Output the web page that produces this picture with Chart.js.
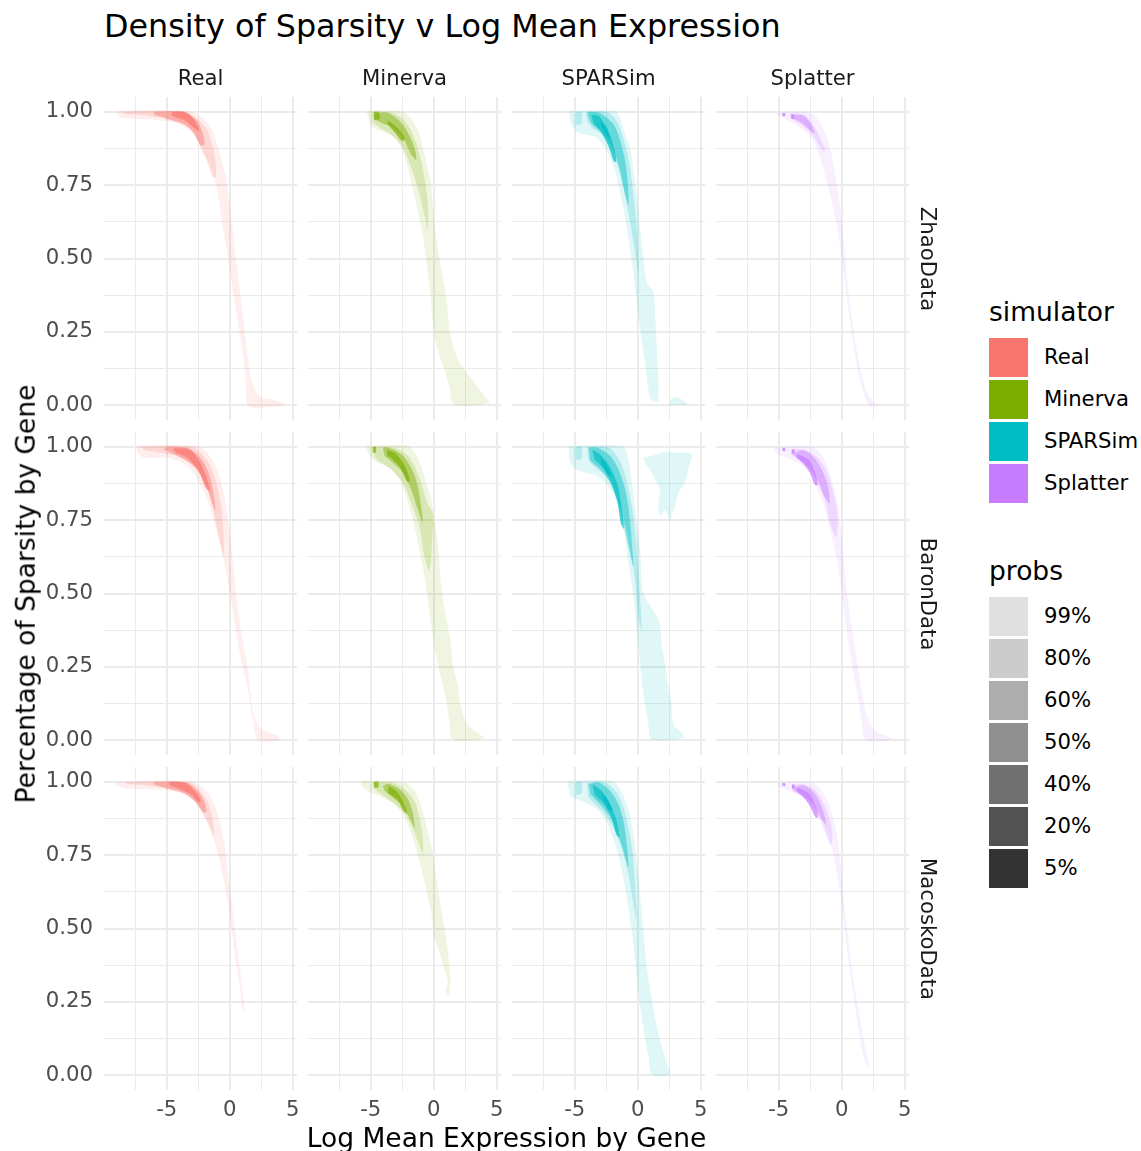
<!DOCTYPE html>
<html>
<head>
<meta charset="utf-8">
<title>Density of Sparsity v Log Mean Expression</title>
<script src="https://cdn.jsdelivr.net/npm/chart.js@4.4.1/dist/chart.umd.min.js"></script>
<style>
  html, body { margin: 0; padding: 0; background: #fff; }
  #page { position: relative; width: 1141px; height: 1151px; overflow: hidden; font-family: 'DejaVu Sans', sans-serif; }
  #page canvas { position: absolute; }
  .txt { position: absolute; white-space: nowrap; line-height: 1; }
  .key { position: absolute; width: 39px; height: 39px; }
</style>
</head>
<body>
<div id="page"></div>
<script>
const simulators = ['Real', 'Minerva', 'SPARSim', 'Splatter'];
const simColors = ['#F8766D', '#7CAE00', '#00BFC4', '#C77CFF'];
const dataNames = ['ZhaoData', 'BaronData', 'MacoskoData'];
const probLabels = ['99%', '80%', '60%', '50%', '40%', '20%', '5%'];
const probAlpha = [0.12, 0.2, 0.32, 0.44, 0.56, 0.68, 0.8];
const xTicks = [-7.5, -5, -2.5, 0, 2.5, 5];
const yTicks = [0, 0.125, 0.25, 0.375, 0.5, 0.625, 0.75, 0.875, 1];
const xRange = [-9.97, 5.33];
const yRange = [-0.05, 1.05];

// HDR regions per panel: [prob, [x0, y0, x1, y1, ...]]
// x = log mean expression, y = sparsity
const zhaoReal = [
  ['99%', [-9.0,1.0, -8.6,1.003, -3.5,1.003, -2.3,0.985, -1.5,0.945, -1.0,0.888, -0.6,0.83, -0.25,0.76, 0.0,0.68, 0.24,0.6, 0.45,0.51, 0.71,0.42, 0.97,0.33, 1.16,0.26, 1.42,0.17, 1.76,0.08, 2.4,0.03, 3.5,0.018, 4.4,0.003, 3.7,-0.003, 1.5,-0.003, 1.32,0.066, 1.05,0.17, 0.71,0.27, 0.32,0.37, -0.08,0.49, -0.53,0.6, -0.95,0.72, -1.47,0.81, -2.3,0.877, -2.84,0.928, -3.76,0.959, -5.1,0.968, -6.5,0.974, -8.1,0.977, -8.8,0.982]],
  ['80%', [-8.5,1.0, -3.9,1.0, -2.7,0.979, -1.9,0.945, -1.4,0.888, -1.13,0.83, -1.13,0.775, -1.4,0.78, -1.8,0.83, -2.4,0.888, -3.1,0.934, -4.2,0.962, -5.5,0.979, -7.0,0.989, -8.4,0.991]],
  ['50%', [-6.0,1.0, -3.6,1.0, -2.7,0.974, -2.2,0.934, -2.0,0.888, -2.3,0.885, -2.85,0.928, -3.6,0.957, -5.0,0.977, -6.0,0.99]],
  ['20%', [-4.6,0.999, -3.6,0.999, -2.85,0.974, -2.4,0.934, -2.7,0.94, -3.5,0.968, -4.6,0.986]]
];
const zhaoMinerva = [
  ['99%', [-5.3,1.003, -2.8,1.003, -2.32,0.997, -1.66,0.968, -1.13,0.922, -0.87,0.877, -0.47,0.808, -0.21,0.751, -0.08,0.683, 0.11,0.603, 0.45,0.5, 0.97,0.374, 1.29,0.249, 1.89,0.158, 2.42,0.123, 3.21,0.078, 4.0,0.032, 4.39,0.009, 1.63,0.003, 1.24,0.066, 0.84,0.123, 0.45,0.169, 0.0,0.249, -0.26,0.374, -0.61,0.5, -0.87,0.58, -1.26,0.66, -1.66,0.74, -2.05,0.808, -2.58,0.877, -3.1,0.911, -3.9,0.929, -4.95,0.951, -5.26,0.99]],
  ['80%', [-4.95,1.0, -3.37,0.997, -2.32,0.968, -1.66,0.922, -1.13,0.854, -0.74,0.774, -0.47,0.683, -0.47,0.597, -0.74,0.648, -1.26,0.74, -1.79,0.808, -2.45,0.877, -3.37,0.922, -4.29,0.945, -4.82,0.962]],
  ['50%', [-4.74,0.99, -3.76,0.997, -2.71,0.968, -2.05,0.928, -1.53,0.877, -1.39,0.837, -1.79,0.854, -2.45,0.911, -3.24,0.945, -4.16,0.962, -4.74,0.974]],
  ['20%', [-4.75,0.999, -4.35,0.999, -4.3,0.975, -4.7,0.972]],
  ['20%', [-3.6,0.97, -2.9,0.945, -2.3,0.91, -2.5,0.9, -3.1,0.93, -3.7,0.96]]
];
const zhaoSPARSim = [
  ['99%', [-5.47,1.003, -1.79,1.003, -1.53,0.991, -1.0,0.922, -0.61,0.877, -0.34,0.797, -0.08,0.717, 0.18,0.603, 0.45,0.5, 0.71,0.42, 0.97,0.403, 1.24,0.386, 1.37,0.317, 1.5,0.203, 1.63,0.089, 1.63,0.021, 1.37,0.011, 0.97,0.026, 0.58,0.146, 0.18,0.26, -0.13,0.374, -0.47,0.489, -0.87,0.603, -1.26,0.694, -1.79,0.797, -2.45,0.865, -3.24,0.911, -4.16,0.922, -4.68,0.928, -5.08,0.945, -5.42,0.974]],
  ['99%', [2.45,0.0, 2.6,0.02, 2.9,0.028, 3.4,0.022, 4.0,0.003]],
  ['80%', [-4.1,1.0, -2.32,0.997, -1.53,0.957, -1.0,0.888, -0.61,0.808, -0.34,0.717, -0.08,0.603, 0.05,0.454, -0.34,0.557, -0.87,0.683, -1.39,0.785, -2.05,0.865, -2.84,0.922, -3.63,0.945, -4.03,0.968]],
  ['80%', [-4.9,1.0, -4.45,1.0, -4.45,0.96, -4.9,0.955]],
  ['50%', [-3.95,1.0, -3.1,0.997, -1.92,0.957, -1.39,0.9, -1.0,0.831, -0.79,0.751, -0.74,0.683, -1.05,0.728, -1.53,0.82, -2.18,0.888, -2.97,0.934, -3.63,0.957, -3.95,0.985]],
  ['20%', [-3.7,0.99, -3.1,0.985, -2.4,0.94, -1.9,0.88, -1.7,0.83, -1.9,0.83, -2.3,0.88, -2.9,0.93, -3.5,0.96]],
  ['5%', [-3.0,0.97, -2.5,0.945, -2.2,0.91, -2.5,0.92, -2.9,0.95]]
];
const zhaoSplatter = [
  ['99%', [-5.26,0.997, -2.58,0.997, -1.79,0.968, -1.26,0.922, -0.87,0.865, -0.47,0.774, -0.08,0.66, 0.18,0.546, 0.45,0.42, 0.84,0.283, 1.37,0.146, 1.89,0.055, 2.42,0.015, 2.95,0.0, 2.16,0.0, 1.5,0.078, 0.97,0.192, 0.53,0.329, 0.11,0.466, -0.26,0.58, -0.68,0.671, -1.26,0.774, -1.92,0.865, -2.58,0.922, -3.5,0.951, -4.42,0.974, -5.08,0.988]],
  ['80%', [-4.1,0.995, -3.0,0.99, -2.2,0.95, -1.6,0.9, -1.3,0.87, -1.5,0.865, -2.0,0.9, -2.6,0.935, -3.4,0.96, -4.1,0.98]],
  ['50%', [-3.9,0.99, -3.0,0.985, -2.4,0.955, -2.15,0.925, -2.5,0.935, -3.1,0.96, -3.8,0.975]],
  ['5%', [-4.7,0.995, -4.5,0.995, -4.5,0.985, -4.7,0.985]],
  ['5%', [-4.0,0.99, -3.8,0.99, -3.8,0.975, -4.0,0.975]]
];
const baronReal = [
  ['99%', [-7.45,1.003, -2.58,1.003, -1.79,0.979, -1.13,0.934, -0.61,0.865, -0.21,0.774, 0.05,0.683, 0.32,0.58, 0.58,0.466, 0.97,0.352, 1.37,0.26, 1.63,0.169, 1.89,0.089, 2.42,0.043, 3.21,0.026, 3.87,0.015, 3.87,0.0, 2.29,0.0, 1.89,0.055, 1.63,0.123, 1.37,0.192, 0.97,0.26, 0.58,0.352, 0.18,0.454, -0.21,0.557, -0.61,0.637, -1.13,0.728, -1.79,0.82, -2.58,0.888, -3.5,0.939, -4.95,0.962, -6.0,0.962, -6.79,0.962, -7.32,0.979]],
  ['80%', [-7.05,1.0, -3.1,1.0, -2.32,0.979, -1.53,0.934, -1.0,0.865, -0.61,0.774, -0.47,0.631, -0.87,0.694, -1.26,0.774, -1.79,0.854, -2.45,0.911, -3.24,0.945, -4.16,0.968, -5.47,0.979, -6.79,0.989]],
  ['50%', [-5.08,1.0, -3.5,0.997, -2.58,0.974, -1.84,0.928, -1.39,0.865, -1.13,0.78, -1.39,0.808, -1.92,0.877, -2.58,0.922, -3.37,0.951, -4.42,0.974, -5.21,0.991]],
  ['20%', [-4.5,0.995, -3.2,0.99, -2.4,0.95, -1.8,0.89, -1.6,0.85, -1.9,0.86, -2.5,0.92, -3.3,0.96, -4.3,0.98]]
];
const baronMinerva = [
  ['99%', [-5.34,1.003, -2.05,1.003, -1.53,0.979, -1.0,0.934, -0.61,0.877, -0.26,0.831, -0.08,0.785, 0.18,0.717, 0.45,0.603, 0.63,0.511, 0.97,0.42, 1.37,0.329, 1.5,0.26, 1.89,0.192, 2.16,0.112, 2.68,0.055, 3.47,0.026, 4.0,0.007, 1.5,0.003, 1.24,0.066, 0.84,0.169, 0.32,0.26, -0.08,0.352, -0.34,0.443, -0.74,0.557, -1.13,0.648, -1.66,0.751, -2.18,0.831, -2.71,0.888, -3.5,0.928, -4.42,0.945, -4.95,0.962, -5.26,0.985]],
  ['80%', [-4.82,1.0, -3.24,0.997, -2.18,0.974, -1.53,0.934, -1.0,0.877, -0.53,0.808, -0.08,0.774, -0.08,0.717, -0.34,0.58, -0.74,0.626, -1.13,0.728, -1.79,0.808, -2.45,0.877, -3.37,0.922, -4.16,0.945, -4.68,0.962]],
  ['50%', [-4.03,0.997, -3.63,0.997, -2.58,0.974, -1.79,0.928, -1.26,0.865, -1.0,0.797, -0.87,0.74, -1.26,0.785, -1.79,0.854, -2.45,0.911, -3.24,0.945, -3.9,0.968]],
  ['20%', [-3.7,0.99, -3.0,0.975, -2.3,0.935, -1.9,0.885, -2.1,0.88, -2.6,0.925, -3.2,0.955, -3.7,0.97]],
  ['20%', [-4.85,1.0, -4.6,1.0, -4.6,0.98, -4.85,0.98]]
];
const baronSPARSim = [
  ['99%', [-5.47,1.003, -1.26,1.003, -0.87,0.979, -0.61,0.922, -0.34,0.831, -0.08,0.74, 0.18,0.648, 0.32,0.534, 0.45,0.5, 1.37,0.432, 1.76,0.397, 1.89,0.329, 2.16,0.26, 2.37,0.192, 2.68,0.123, 2.82,0.055, 3.47,0.026, 3.6,0.009, 1.11,0.003, 0.84,0.055, 0.45,0.158, 0.18,0.26, -0.08,0.374, -0.34,0.489, -0.74,0.603, -1.13,0.717, -1.66,0.808, -2.32,0.865, -3.24,0.9, -4.16,0.911, -4.82,0.922, -5.34,0.945, -5.47,0.979]],
  ['99%', [1.11,0.968, 2.16,0.982, 3.21,0.979, 4.26,0.974, 4.0,0.922, 3.74,0.877, 3.21,0.842, 2.95,0.797, 2.68,0.763, 2.55,0.745, 2.16,0.785, 1.76,0.763, 1.63,0.808, 1.76,0.854, 1.37,0.888, 1.11,0.911, 0.58,0.945, 0.45,0.962]],
  ['80%', [-4.03,1.0, -2.32,0.997, -1.66,0.968, -1.13,0.922, -0.74,0.854, -0.34,0.763, -0.08,0.648, 0.18,0.489, 0.32,0.374, 0.05,0.42, -0.21,0.546, -0.61,0.66, -1.13,0.763, -1.79,0.842, -2.58,0.9, -3.5,0.934, -3.95,0.957]],
  ['80%', [-4.9,1.0, -4.45,1.0, -4.45,0.96, -4.9,0.955]],
  ['50%', [-3.9,0.997, -3.24,0.997, -2.18,0.968, -1.53,0.922, -1.0,0.854, -0.68,0.774, -0.47,0.671, -0.34,0.591, -0.74,0.66, -1.13,0.74, -1.66,0.82, -2.32,0.888, -3.1,0.928, -3.76,0.951]],
  ['20%', [-3.6,0.99, -2.9,0.97, -2.2,0.93, -1.6,0.87, -1.3,0.8, -1.1,0.72, -1.35,0.74, -1.6,0.81, -2.1,0.88, -2.7,0.925, -3.4,0.955]],
  ['5%', [-3.0,0.965, -2.5,0.94, -2.1,0.9, -2.4,0.905, -2.8,0.935]]
];
const baronSplatter = [
  ['99%', [-5.34,0.997, -2.32,1.0, -1.66,0.974, -1.13,0.934, -0.74,0.877, -0.34,0.808, -0.08,0.717, 0.18,0.603, 0.45,0.489, 0.84,0.374, 1.24,0.26, 1.63,0.158, 2.03,0.078, 2.68,0.032, 3.6,0.015, 4.0,0.003, 1.89,0.0, 1.63,0.055, 1.24,0.158, 0.71,0.283, 0.32,0.397, -0.03,0.511, -0.34,0.603, -0.74,0.683, -1.26,0.774, -1.92,0.854, -2.58,0.911, -3.5,0.945, -4.42,0.962, -5.08,0.974, -5.34,0.985]],
  ['80%', [-4.03,0.991, -3.1,0.991, -2.05,0.968, -1.26,0.922, -0.74,0.854, -0.34,0.774, -0.42,0.694, -0.87,0.728, -1.26,0.808, -1.92,0.877, -2.58,0.922, -3.37,0.951, -4.03,0.974]],
  ['50%', [-3.9,0.974, -3.1,0.989, -2.32,0.968, -1.66,0.928, -1.13,0.871, -0.95,0.808, -1.39,0.831, -1.92,0.888, -2.58,0.928, -3.37,0.957]],
  ['20%', [-3.5,0.975, -2.6,0.955, -2.1,0.91, -1.9,0.87, -2.15,0.87, -2.5,0.91, -3.1,0.945, -3.6,0.965]],
  ['5%', [-4.7,0.995, -4.5,0.995, -4.5,0.985, -4.7,0.985]],
  ['5%', [-3.95,0.99, -3.75,0.99, -3.75,0.977, -3.95,0.977]]
];
const macoskoReal = [
  ['99%', [-9.16,0.997, -3.1,1.003, -2.32,0.985, -1.66,0.957, -1.13,0.911, -0.74,0.854, -0.42,0.785, -0.16,0.694, 0.11,0.603, 0.37,0.511, 0.63,0.42, 0.84,0.352, 1.05,0.272, 1.16,0.215, 0.97,0.237, 0.79,0.306, 0.53,0.374, 0.26,0.466, -0.08,0.568, -0.47,0.66, -0.87,0.74, -1.39,0.82, -2.05,0.882, -2.84,0.934, -3.9,0.962, -5.08,0.971, -6.53,0.975, -8.1,0.977, -9.03,0.985]],
  ['80%', [-8.37,1.0, -3.24,0.997, -2.45,0.974, -1.79,0.934, -1.39,0.877, -1.26,0.814, -1.66,0.854, -2.18,0.9, -2.84,0.94, -3.9,0.968, -5.21,0.979, -6.79,0.988, -8.1,0.991]],
  ['50%', [-6.0,1.0, -3.5,0.998, -2.7,0.975, -2.1,0.94, -1.85,0.9, -2.1,0.895, -2.7,0.93, -3.6,0.96, -5.0,0.977, -6.0,0.99]],
  ['20%', [-4.8,0.999, -3.6,0.997, -2.8,0.97, -2.3,0.935, -2.5,0.93, -3.0,0.955, -4.0,0.975, -4.8,0.988]]
];
const macoskoMinerva = [
  ['99%', [-5.74,1.003, -2.32,0.997, -1.53,0.968, -1.13,0.934, -0.74,0.877, -0.34,0.808, -0.08,0.751, 0.18,0.683, 0.45,0.603, 0.71,0.534, 0.97,0.466, 1.24,0.374, 1.32,0.317, 1.24,0.283, 1.11,0.272, 0.97,0.289, 1.11,0.317, 0.84,0.363, 0.45,0.42, 0.05,0.466, -0.21,0.557, -0.61,0.637, -1.13,0.728, -1.66,0.808, -2.32,0.877, -3.1,0.922, -4.03,0.945, -4.95,0.962, -5.47,0.974, -5.74,0.989]],
  ['80%', [-4.82,0.997, -3.37,0.997, -2.32,0.974, -1.53,0.934, -1.13,0.877, -0.87,0.808, -0.87,0.757, -1.26,0.797, -1.79,0.854, -2.45,0.9, -3.24,0.928, -4.16,0.957, -4.68,0.974]],
  ['50%', [-4.03,0.985, -3.63,0.993, -2.71,0.974, -2.05,0.94, -1.66,0.894, -1.53,0.842, -1.92,0.877, -2.45,0.917, -3.24,0.945, -3.9,0.968]],
  ['20%', [-4.75,1.0, -4.4,1.0, -4.4,0.98, -4.75,0.98]],
  ['20%', [-3.6,0.985, -2.9,0.965, -2.3,0.92, -2.1,0.89, -2.4,0.9, -2.9,0.94, -3.6,0.96]]
];
const macoskoSPARSim = [
  ['99%', [-5.6,1.003, -2.05,1.003, -1.39,0.974, -0.87,0.922, -0.47,0.854, -0.21,0.774, 0.05,0.683, 0.26,0.58, 0.45,0.489, 0.71,0.374, 1.11,0.26, 1.5,0.169, 1.89,0.1, 2.29,0.043, 2.55,0.003, 1.11,0.003, 0.84,0.066, 0.45,0.158, 0.11,0.26, -0.16,0.374, -0.47,0.489, -0.87,0.603, -1.26,0.694, -1.79,0.785, -2.45,0.86, -3.24,0.905, -4.16,0.928, -4.82,0.94, -5.34,0.951, -5.5,0.979]],
  ['80%', [-4.03,0.997, -2.58,0.997, -1.66,0.962, -1.13,0.911, -0.74,0.842, -0.42,0.763, -0.21,0.648, -0.08,0.523, -0.34,0.58, -0.74,0.683, -1.21,0.763, -1.79,0.831, -2.58,0.888, -3.5,0.928, -3.95,0.951]],
  ['80%', [-4.9,1.0, -4.45,1.0, -4.45,0.96, -4.9,0.955]],
  ['50%', [-3.9,0.991, -3.1,0.997, -2.18,0.968, -1.53,0.922, -1.13,0.865, -0.87,0.785, -0.74,0.706, -1.13,0.763, -1.66,0.831, -2.32,0.888, -3.1,0.928, -3.76,0.957]],
  ['20%', [-3.6,0.99, -2.9,0.97, -2.2,0.925, -1.7,0.87, -1.45,0.81, -1.7,0.82, -2.1,0.88, -2.7,0.925, -3.4,0.955]],
  ['5%', [-2.9,0.96, -2.4,0.94, -2.0,0.9, -2.3,0.905, -2.7,0.935]]
];
const macoskoSplatter = [
  ['99%', [-5.08,0.997, -2.32,0.997, -1.66,0.974, -1.13,0.934, -0.68,0.877, -0.34,0.808, -0.08,0.717, 0.13,0.603, 0.45,0.489, 0.84,0.352, 1.37,0.215, 1.84,0.1, 2.16,0.038, 2.03,0.026, 1.76,0.055, 1.37,0.146, 0.97,0.26, 0.58,0.374, 0.26,0.489, -0.08,0.603, -0.42,0.694, -0.87,0.785, -1.39,0.854, -2.05,0.911, -2.84,0.945, -3.76,0.962, -4.55,0.974, -5.0,0.982]],
  ['80%', [-3.9,0.989, -3.1,0.991, -2.18,0.974, -1.53,0.934, -1.0,0.877, -0.74,0.82, -0.87,0.785, -1.26,0.82, -1.79,0.877, -2.45,0.922, -3.24,0.951, -3.9,0.968]],
  ['50%', [-3.9,0.977, -3.1,0.989, -2.32,0.968, -1.79,0.934, -1.39,0.888, -1.26,0.854, -1.66,0.877, -2.18,0.917, -2.84,0.945, -3.5,0.962]],
  ['20%', [-3.5,0.98, -2.6,0.96, -2.1,0.92, -1.85,0.88, -2.1,0.88, -2.5,0.915, -3.1,0.95, -3.6,0.97]],
  ['5%', [-4.7,0.995, -4.5,0.995, -4.5,0.985, -4.7,0.985]],
  ['5%', [-3.95,0.99, -3.75,0.99, -3.75,0.977, -3.95,0.977]]
];

const panels = [
  [zhaoReal, zhaoMinerva, zhaoSPARSim, zhaoSplatter],
  [baronReal, baronMinerva, baronSPARSim, baronSplatter],
  [macoskoReal, macoskoMinerva, macoskoSPARSim, macoskoSplatter]
];

const page = document.getElementById('page');
const FONT = 'DejaVu Sans';

function rgba(hex, a) {
  const n = parseInt(hex.slice(1), 16);
  return 'rgba(' + (n >> 16) + ',' + ((n >> 8) & 255) + ',' + (n & 255) + ',' + a + ')';
}

function toPoints(flat) {
  const pts = [];
  for (let i = 0; i < flat.length; i += 2) pts.push({ x: flat[i], y: flat[i + 1] });
  return pts;
}

function addText(str, x, y, size, color, transform) {
  const d = document.createElement('div');
  d.className = 'txt';
  d.textContent = str;
  d.style.left = x + 'px';
  d.style.top = y + 'px';
  d.style.fontSize = size + 'px';
  d.style.color = color || '#000';
  if (transform) d.style.transform = transform;
  page.appendChild(d);
  return d;
}

// fixed tick positions, and keep the axis limits as given
function fixedTicks(values, range) {
  return function (s) {
    s.ticks = values.map(function (v) { return { value: v }; });
    s.min = range[0];
    s.max = range[1];
  };
}

// panel geometry (chart area)
const panelW = 193, panelH = 323;
const colX = [104, 308, 512, 716];
const rowY = [97, 432, 767];
const yAxisW = 74, xAxisH = 40, pad = 12;

panels.forEach(function (row, r) {
  row.forEach(function (regions, c) {
    const firstCol = c === 0, lastRow = r === panels.length - 1;
    const canvas = document.createElement('canvas');
    const leftExtra = firstCol ? yAxisW : pad;
    const bottomExtra = lastRow ? xAxisH : pad;
    canvas.width = leftExtra + panelW + pad;
    canvas.height = pad + panelH + bottomExtra;
    canvas.style.left = (colX[c] - leftExtra) + 'px';
    canvas.style.top = (rowY[r] - pad) + 'px';
    page.appendChild(canvas);

    const datasets = regions.map(function (reg) {
      const alpha = probAlpha[probLabels.indexOf(reg[0])];
      return {
        label: simulators[c] + ' ' + reg[0],
        data: toPoints(reg[1]),
        showLine: true,
        fill: 'shape',
        tension: 0.3,
        backgroundColor: rgba(simColors[c], alpha),
        borderColor: 'rgba(0,0,0,0)',
        borderWidth: 0,
        pointRadius: 0,
        pointHoverRadius: 0
      };
    });

    new Chart(canvas, {
      type: 'scatter',
      data: { datasets: datasets },
      options: {
        responsive: false,
        animation: false,
        events: [],
        layout: { padding: { left: firstCol ? 0 : pad, top: pad, right: pad, bottom: lastRow ? 0 : pad } },
        plugins: { legend: { display: false }, tooltip: { enabled: false } },
        scales: {
          x: {
            type: 'linear',
            bounds: 'data',
            min: xRange[0],
            max: xRange[1],
            afterBuildTicks: fixedTicks(xTicks, xRange),
            afterFit: function (s) {
              s.height = lastRow ? xAxisH : 0;
              s.paddingLeft = 0;
              s.paddingRight = 0;
            },
            border: { display: false },
            grid: {
              color: '#EBEBEB',
              drawTicks: false,
              lineWidth: function (ctx) { return ctx.tick && ctx.tick.value % 5 === 0 ? 2 : 1; }
            },
            ticks: {
              display: lastRow,
              autoSkip: false,
              maxRotation: 0,
              padding: 8,
              color: '#4D4D4D',
              font: { family: FONT, size: 21.2 },
              callback: function (v) { return v % 5 === 0 ? String(v) : ''; }
            }
          },
          y: {
            type: 'linear',
            bounds: 'data',
            min: yRange[0],
            max: yRange[1],
            afterBuildTicks: fixedTicks(yTicks, yRange),
            afterFit: function (s) {
              s.width = firstCol ? yAxisW : 0;
              s.paddingTop = 0;
              s.paddingBottom = 0;
            },
            border: { display: false },
            grid: {
              color: '#EBEBEB',
              drawTicks: false,
              lineWidth: function (ctx) { return ctx.tick && Math.round(ctx.tick.value * 1000) % 250 === 0 ? 2 : 1; }
            },
            ticks: {
              display: firstCol,
              autoSkip: false,
              padding: 11,
              color: '#4D4D4D',
              font: { family: FONT, size: 21.2 },
              callback: function (v) { return Math.round(v * 1000) % 250 === 0 ? v.toFixed(2) : ''; }
            }
          }
        }
      }
    });
  });
});

// titles and strips
addText('Density of Sparsity v Log Mean Expression', 104, 10, 31.8, '#000');
simulators.forEach(function (s, c) {
  addText(s, colX[c] + panelW / 2, 67, 21.2, '#1A1A1A', 'translateX(-50%)');
});
dataNames.forEach(function (s, r) {
  addText(s, 928, rowY[r] + panelH / 2, 21.2, '#1A1A1A', 'translate(-50%, -50%) rotate(90deg)');
});
addText('Log Mean Expression by Gene', 506.5, 1124.6, 26.5, '#000', 'translateX(-50%)');
addText('Percentage of Sparsity by Gene', 25.5, 593.5, 26.5, '#000', 'translate(-50%, -50%) rotate(-90deg)');

// legends
function addKey(color, cy) {
  const k = document.createElement('div');
  k.className = 'key';
  k.style.left = '989px';
  k.style.top = (cy - 19.5) + 'px';
  k.style.background = color;
  page.appendChild(k);
}
addText('simulator', 989, 298.6, 26.5, '#000');
simulators.forEach(function (s, i) {
  addKey(simColors[i], 357 + 42 * i);
  addText(s, 1044, 357 + 42 * i, 21.2, '#000', 'translateY(-50%)');
});
addText('probs', 989, 557.6, 26.5, '#000');
probLabels.forEach(function (p, i) {
  addKey(rgba('#000000', probAlpha[i]), 616 + 42 * i);
  addText(p, 1044, 616 + 42 * i, 21.2, '#000', 'translateY(-50%)');
});
</script>
</body>
</html>
